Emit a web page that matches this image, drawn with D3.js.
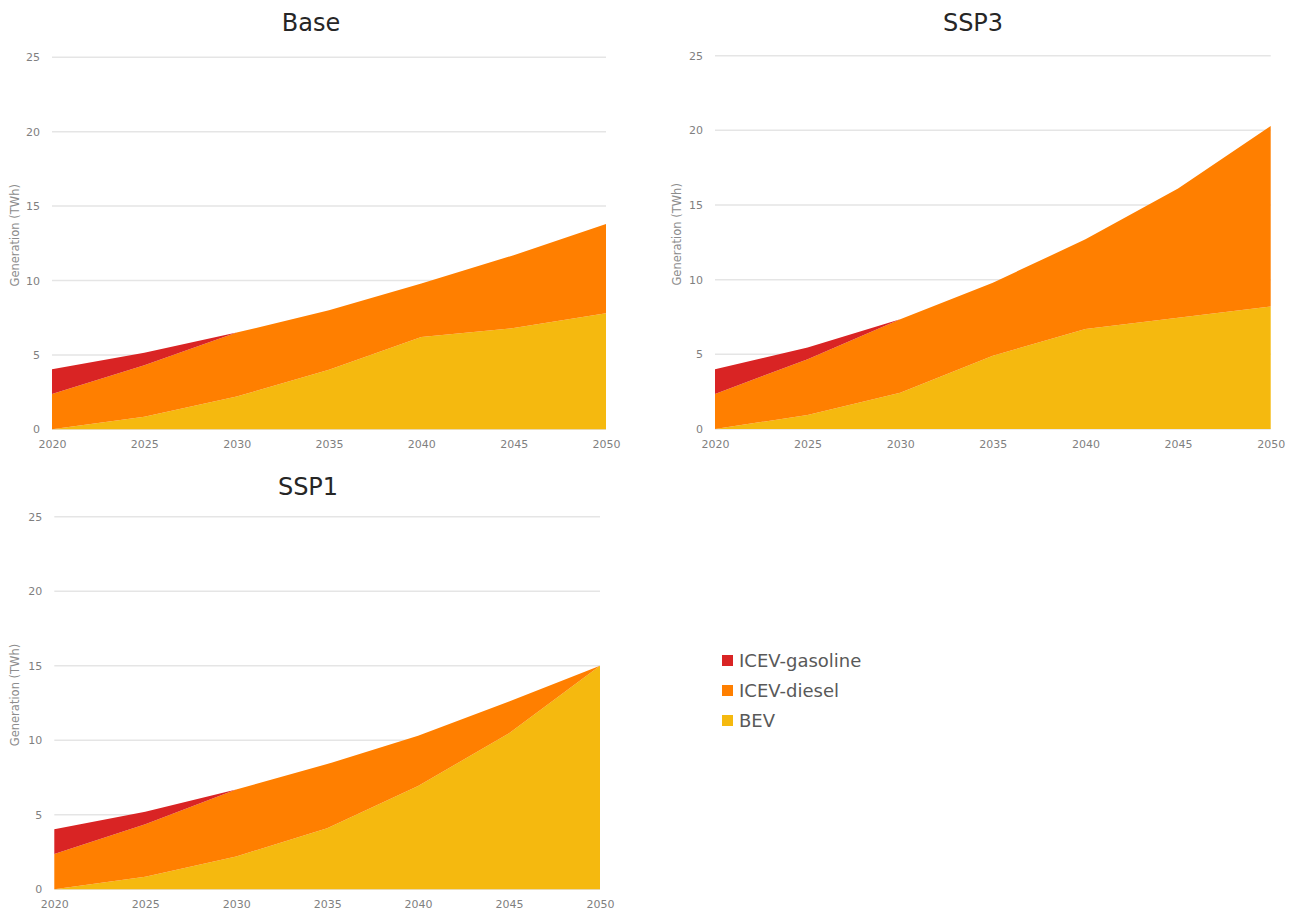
<!DOCTYPE html>
<html>
  <head>
    <meta charset="utf-8" />
    <title>Generation by vehicle type</title>
    <script src="https://cdn.jsdelivr.net/npm/d3@7"></script>
    <style>
      html, body {
        margin: 0;
        padding: 0;
        background: #fff;
      }
      svg {
        display: block;
      }
      .title {
        font-family: "DejaVu Sans", sans-serif;
        font-size: 24px;
        fill: #262626;
        text-anchor: middle;
      }
      .tick text {
        font-family: "DejaVu Sans", sans-serif;
        font-size: 11px;
        fill: #7f7f7f;
      }
      .ylabel {
        font-family: "DejaVu Sans", sans-serif;
        font-size: 11.5px;
        fill: #8c8c8c;
        text-anchor: middle;
      }
      .legend text {
        font-family: "DejaVu Sans", sans-serif;
        font-size: 18px;
        fill: #595959;
      }
    </style>
  </head>
<body>
<svg width="1293" height="911"></svg>
<script>

// years on the x axis
let years = [2020, 2025, 2030, 2035, 2040, 2045, 2050];
let yTicks = [0, 5, 10, 15, 20, 25];
let seriesNames = ["ICEV-gasoline", "ICEV-diesel", "BEV"];

// Base scenario (TWh)
let baseBEV      = [0, 0.85, 2.2, 4.0, 6.2, 6.8, 7.8];
let baseDiesel   = [2.37, 3.45, 4.3, 4.0, 3.6, 4.9, 6.0];
let baseGasoline = [1.66, 0.85, 0, 0, 0, 0, 0];

// SSP3 scenario (TWh)
let ssp3BEV      = [0, 0.94, 2.43, 4.9, 6.7, 7.45, 8.2];
let ssp3Diesel   = [2.35, 3.73, 4.92, 4.9, 6.0, 8.65, 12.1];
let ssp3Gasoline = [1.65, 0.78, 0, 0, 0, 0, 0];

// SSP1 scenario (TWh)
let ssp1BEV      = [0, 0.85, 2.2, 4.1, 6.93, 10.47, 15.0];
let ssp1Diesel   = [2.37, 3.51, 4.5, 4.3, 3.37, 2.13, 0];
let ssp1Gasoline = [1.66, 0.84, 0, 0, 0, 0, 0];

let colors = {
  "ICEV-gasoline": "#d92424",
  "ICEV-diesel": "#ff7f00",
  "BEV": "#f5b90f"
};

let panels = [
  {title: "Base", bev: baseBEV, diesel: baseDiesel, gas: baseGasoline,
   left: 52, right: 606, top: 57.3, bottom: 429.3, titleX: 311, titleY: 31, labelX: 15},
  {title: "SSP3", bev: ssp3BEV, diesel: ssp3Diesel, gas: ssp3Gasoline,
   left: 715, right: 1270.7, top: 55.7, bottom: 429, titleX: 973, titleY: 31, labelX: 677},
  {title: "SSP1", bev: ssp1BEV, diesel: ssp1Diesel, gas: ssp1Gasoline,
   left: 54.3, right: 600, top: 516.7, bottom: 889.3, titleX: 308, titleY: 495, labelX: 15}
];

let svg = d3.select('svg');

panels.forEach(drawPanel);
drawLegend();


function drawPanel(p) {
  let rows = years.map((y, i) => ({
    year: y,
    "BEV": p.bev[i],
    "ICEV-diesel": p.diesel[i],
    "ICEV-gasoline": p.gas[i]
  }));

  let x = d3.scaleLinear().domain([2020, 2050]).range([p.left, p.right]);
  let y = d3.scaleLinear().domain([0, 25]).range([p.bottom, p.top]);

  let g = svg.append('g');

  // gridlines
  g.append('g')
   .selectAll('line')
   .data(yTicks)
   .enter()
   .append('line')
   .attr('x1', p.left)
   .attr('x2', p.right)
   .attr('y1', d => y(d))
   .attr('y2', d => y(d))
   .attr('stroke', '#e5e5e5')
   .attr('stroke-width', 1.5);

  let stack = d3.stack().keys(["BEV", "ICEV-diesel", "ICEV-gasoline"]);
  let layers = stack(rows);

  let area = d3.area()
    .x(d => x(d.data.year))
    .y0(d => y(d[0]))
    .y1(d => y(d[1]));

  g.append('g')
   .selectAll('path')
   .data(layers)
   .enter()
   .append('path')
   .attr('d', area)
   .attr('fill', d => colors[d.key]);

  // y axis
  let yAxis = g.append('g')
    .attr('transform', 'translate(' + (p.left - 12) + ',0)')
    .call(d3.axisLeft(y).tickValues(yTicks).tickSize(0).tickPadding(0));
  yAxis.select('.domain').remove();

  // x axis
  let xAxis = g.append('g')
    .attr('transform', 'translate(0,' + (p.bottom + 5) + ')')
    .call(d3.axisBottom(x).tickValues(years).tickFormat(d3.format('d')).tickSize(0).tickPadding(6));
  xAxis.select('.domain').remove();

  g.append('text')
   .attr('class', 'ylabel')
   .attr('transform', 'translate(' + p.labelX + ',' + ((p.top + p.bottom) / 2 - 8) + ') rotate(-90)')
   .attr('dy', '0.35em')
   .text('Generation (TWh)');

  g.append('text')
   .attr('class', 'title')
   .attr('x', p.titleX)
   .attr('y', p.titleY)
   .text(p.title);
}


function drawLegend() {
  let lg = svg.append('g')
    .attr('class', 'legend')
    .attr('transform', 'translate(722, 661)');

  let item = lg.selectAll('g')
    .data(seriesNames)
    .enter()
    .append('g')
    .attr('transform', (d, i) => 'translate(0,' + (i * 30) + ')');

  item.append('rect')
    .attr('x', 0)
    .attr('y', -6)
    .attr('width', 11)
    .attr('height', 11)
    .attr('fill', d => colors[d]);

  item.append('text')
    .attr('x', 17)
    .attr('y', 0)
    .attr('dy', '0.35em')
    .text(d => d);
}

</script>
</body>
</html>
